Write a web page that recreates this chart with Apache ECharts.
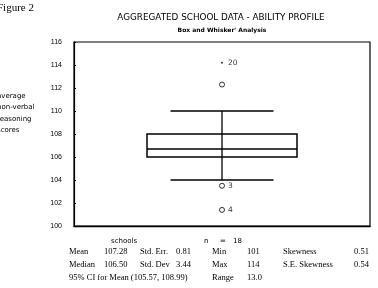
<!DOCTYPE html>
<html>
<head>
<meta charset="utf-8">
<script src="https://cdn.jsdelivr.net/npm/echarts@6/dist/echarts.min.js"></script>
<style>
  html, body { margin: 0; padding: 0; background: #fff; }
  #main { width: 378px; height: 288px; }
</style>
</head>
<body>
<div id="main"></div>
<script>
// values
const categories = ['schools'];
// lower whisker, Q1, median, Q3, upper whisker
const boxStats = [104, 106, 106.7, 108, 110];
// outliers: [value, case label]
const outliers = [[112.3, ''], [103.5, '3'], [101.4, '4']];
const extremes = [[114.2, '20']];
const yTicks = { min: 100, max: 116, interval: 2 };

const statRows = [
  ['Mean', '107.28', 'Std. Err.', '0.81', 'Min', '101', 'Skewness', '0.51'],
  ['Median', '106.50', 'Std. Dev', '3.44', 'Max', '114', 'S.E. Skewness', '0.54'],
  ['95% CI for Mean (105.57, 108.99)', '', '', '', 'Range', '13.0', '', '']
];
const statCols = [69, 104, 140, 176, 212, 247, 283, 354];

let chartDom = document.getElementById('main');
let myChart = echarts.init(chartDom);

function renderBox(params, api) {
  const cx = api.coord([api.value(0), api.value(3)])[0];
  const band = api.size([1, 0])[0];
  const hb = band * 0.2534;
  const hc = band * 0.174;
  const yLo = api.coord([0, api.value(1)])[1];
  const yQ1 = api.coord([0, api.value(2)])[1];
  const yMed = api.coord([0, api.value(3)])[1];
  const yQ3 = api.coord([0, api.value(4)])[1];
  const yHi = api.coord([0, api.value(5)])[1];
  const line = { stroke: '#000', lineWidth: 1.3 };
  return {
    type: 'group',
    children: [
      { type: 'line', shape: { x1: cx, y1: yHi, x2: cx, y2: yLo }, style: line },
      { type: 'line', shape: { x1: cx - hc, y1: yHi, x2: cx + hc, y2: yHi }, style: line },
      { type: 'line', shape: { x1: cx - hc, y1: yLo, x2: cx + hc, y2: yLo }, style: line },
      { type: 'rect', shape: { x: cx - hb, y: yQ3, width: hb * 2, height: yQ1 - yQ3 },
        style: { fill: '#fff', stroke: '#000', lineWidth: 1.5 } },
      { type: 'line', shape: { x1: cx, y1: yQ3, x2: cx, y2: yQ1 }, style: line },
      { type: 'line', shape: { x1: cx - hb, y1: yMed, x2: cx + hb, y2: yMed },
        style: { stroke: '#000', lineWidth: 1.6 } }
    ]
  };
}

const sans = 'DejaVu Sans';
const serif = 'Liberation Serif';

const graphics = [
  { type: 'text', left: -3, top: 3, style: { text: 'Figure 2', font: '11px ' + serif, fill: '#000' } },
  { type: 'text', x: 221, y: 18, style: { text: 'AGGREGATED SCHOOL DATA - ABILITY PROFILE', font: '8.8px ' + sans,
      fill: '#000', textAlign: 'center', textVerticalAlign: 'middle' } },
  { type: 'text', x: 222, y: 30, style: { text: "Box and Whisker' Analysis", font: 'bold 6px ' + sans,
      fill: '#000', textAlign: 'center', textVerticalAlign: 'middle' } },
  { type: 'text', x: 111, y: 241, style: { text: categories[0], font: '7px ' + sans, fill: '#000', textVerticalAlign: 'middle' } },
  { type: 'text', x: 204, y: 241, style: { text: 'n', font: '7px ' + sans, fill: '#000', textVerticalAlign: 'middle' } },
  { type: 'text', x: 220, y: 241, style: { text: '=', font: '7px ' + sans, fill: '#000', textVerticalAlign: 'middle' } },
  { type: 'text', x: 233, y: 241, style: { text: '18', font: '7px ' + sans, fill: '#000', textVerticalAlign: 'middle' } }
];
['average', 'non-verbal', 'reasoning', 'scores'].forEach((t, i) => {
  graphics.push({ type: 'text', x: -3, y: 96 + i * 11.5,
    style: { text: t, font: '7px ' + sans, fill: '#000', textVerticalAlign: 'middle' } });
});
statRows.forEach((row, r) => {
  row.forEach((t, c) => {
    if (!t) return;
    graphics.push({ type: 'text', x: statCols[c], y: 252 + r * 13,
      style: { text: t, font: '8.5px ' + serif, fill: '#000', textVerticalAlign: 'middle' } });
  });
});

const option = {
  animation: false,
  backgroundColor: '#fff',
  grid: { left: 74, right: 8, top: 42, bottom: 62, show: true, borderColor: '#000', borderWidth: 1.2 },
  xAxis: {
    type: 'category',
    data: categories,
    axisLine: { show: true, lineStyle: { color: '#000', width: 1.4 } },
    axisTick: { show: false },
    axisLabel: { show: false },
    splitLine: { show: false }
  },
  yAxis: {
    type: 'value',
    min: yTicks.min,
    max: yTicks.max,
    interval: yTicks.interval,
    axisLine: { show: true, lineStyle: { color: '#000', width: 1.2 } },
    axisTick: { show: true, inside: true, length: 2, lineStyle: { color: '#000' } },
    axisLabel: { color: '#000', fontSize: 7, fontFamily: 'Liberation Sans', margin: 12,
      verticalAlign: 'middle', padding: [0, 0, 5, 0] },
    splitLine: { show: false }
  },
  graphic: graphics,
  series: [
    {
      type: 'custom',
      renderItem: renderBox,
      encode: { x: 0, y: [1, 2, 3, 4, 5] },
      data: [[0].concat(boxStats)]
    },
    {
      type: 'scatter',
      symbol: 'circle',
      symbolSize: 5,
      itemStyle: { color: '#fff', borderColor: '#000', borderWidth: 1 },
      label: { show: true, position: 'right', distance: 3, color: '#000', fontSize: 7.5, fontFamily: sans,
        formatter: p => p.value[2] },
      data: outliers.map(o => [0, o[0], o[1]])
    },
    {
      type: 'scatter',
      symbol: 'circle',
      symbolSize: 2,
      itemStyle: { color: '#000' },
      label: { show: true, position: 'right', distance: 5, color: '#000', fontSize: 7.5, fontFamily: sans,
        formatter: p => p.value[2] },
      data: extremes.map(o => [0, o[0], o[1]])
    }
  ]
};

myChart.setOption(option);
</script>
</body>
</html>
